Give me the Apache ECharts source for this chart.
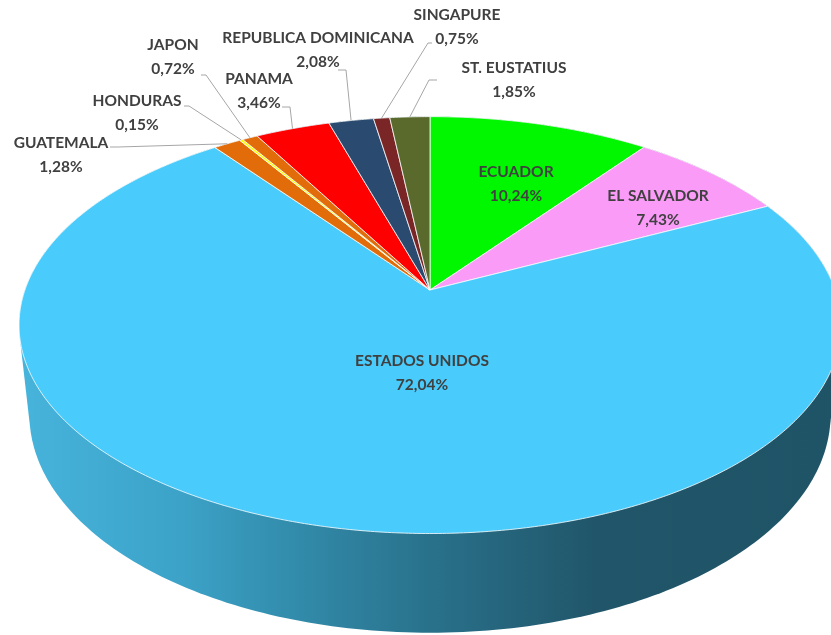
<!DOCTYPE html>
<html>
<head>
<meta charset="utf-8">
<script src="https://cdn.jsdelivr.net/npm/echarts@6/dist/echarts.min.js"></script>
<style>
  html, body { margin: 0; padding: 0; background: #fff; }
  #chart { width: 831px; height: 635px; }
</style>
</head>
<body>
<div id="chart"></div>
<script>
// data
const countries = ['ECUADOR', 'EL SALVADOR', 'ESTADOS UNIDOS', 'GUATEMALA', 'HONDURAS',
                   'JAPON', 'PANAMA', 'REPUBLICA DOMINICANA', 'SINGAPURE', 'ST. EUSTATIUS'];
const shares = [10.24, 7.43, 72.04, 1.28, 0.15, 0.72, 3.46, 2.08, 0.75, 1.85];

// styles / layout
const sliceColors = ['#00f700', '#f99bf7', '#49cbfb', '#e36c0a', '#ffff00',
                     '#e36c0a', '#ff0000', '#2b4a6f', '#7a2526', '#5a6a2c'];
// label block centre, and leader start + elbow (null = label drawn inside the slice)
const labelPos = [[516, 184], [658, 208], [422, 373], [61, 155], [137, 113],
                  [173, 57], [259, 91], [318, 50], [457, 27], [514, 80]];
const leaderPts = [null, null, null,
                   [[110, 147], [118, 147]],
                   [[184, 106], [189, 106]],
                   [[201, 75], [206, 75]],
                   [[282, 107], [290, 107]],
                   [[338, 70], [346, 70]],
                   [[432, 43], [428, 43]],
                   [[437, 80], [429, 80]]];

// simple perspective camera for the tilted disk
const cam = { cx: 430, cy: 290, D: 5.147, F: 2085, tilt: Math.PI / 6, H: 0.26 };

function proj(theta, r, y) {
  const X = r * Math.sin(theta), Z = -r * Math.cos(theta);
  const s = Math.sin(cam.tilt), c = Math.cos(cam.tilt);
  const d = cam.D - y * s - Z * c;
  return [cam.cx + cam.F * X / d, cam.cy - cam.F * (y * c - Z * s) / d];
}

const total = shares.reduce((a, b) => a + b, 0);
const starts = [];
let acc = 0;
for (const v of shares) { starts.push(acc); acc += v; }
const ang = p => p / total * Math.PI * 2;

function hull(pts) {
  pts = pts.slice().sort((a, b) => a[0] - b[0] || a[1] - b[1]);
  const cross = (o, a, b) => (a[0] - o[0]) * (b[1] - o[1]) - (a[1] - o[1]) * (b[0] - o[0]);
  const lo = [], up = [];
  for (const p of pts) {
    while (lo.length >= 2 && cross(lo[lo.length - 2], lo[lo.length - 1], p) <= 0) lo.pop();
    lo.push(p);
  }
  for (let i = pts.length - 1; i >= 0; i--) {
    const p = pts[i];
    while (up.length >= 2 && cross(up[up.length - 2], up[up.length - 1], p) <= 0) up.pop();
    up.push(p);
  }
  up.pop(); lo.pop();
  return lo.concat(up);
}

const chart = echarts.init(document.getElementById('chart'));

const option = {
  animation: false,
  series: [
    {
      // side wall of the pie
      type: 'custom',
      coordinateSystem: 'none',
      z: 1,
      data: [0],
      renderItem: function () {
        const pts = [];
        for (let a = 0; a < 360; a += 1) {
          const t = a * Math.PI / 180;
          pts.push(proj(t, 1, 0));
          pts.push(proj(t, 1, -cam.H));
        }
        return {
          type: 'polygon',
          shape: { points: hull(pts) },
          style: {
            fill: new echarts.graphic.LinearGradient(0, 0, 1, 0, [
              { offset: 0, color: '#47b4dc' },
              { offset: 0.2, color: '#3ca2c7' },
              { offset: 0.35, color: '#3189a8' },
              { offset: 0.5, color: '#29718b' },
              { offset: 0.7, color: '#21566a' },
              { offset: 1, color: '#1f5366' }
            ])
          }
        };
      }
    },
    {
      // top face slices
      type: 'custom',
      coordinateSystem: 'none',
      z: 2,
      data: shares.map((v, i) => [i, v]),
      renderItem: function (params, api) {
        const i = params.dataIndex;
        const t0 = ang(starts[i]), t1 = ang(starts[i] + shares[i]);
        const n = Math.max(2, Math.ceil((t1 - t0) / (Math.PI / 360)));
        const pts = [proj(0, 0, 0)];
        for (let k = 0; k <= n; k++) pts.push(proj(t0 + (t1 - t0) * k / n, 1, 0));
        return {
          type: 'polygon',
          shape: { points: pts },
          style: { fill: sliceColors[i], stroke: '#ffffff', lineWidth: 0.8 }
        };
      }
    },
    {
      // labels and leader lines
      type: 'custom',
      coordinateSystem: 'none',
      z: 3,
      data: shares.map((v, i) => [i, v]),
      renderItem: function (params, api) {
        const i = params.dataIndex;
        const children = [];
        const lp = leaderPts[i];
        if (lp) {
          const tm = ang(starts[i] + shares[i] / 2);
          const end = proj(tm, 1, 0);
          children.push({
            type: 'polyline',
            shape: { points: [lp[0], lp[1], end] },
            style: { stroke: '#a6a6a6', lineWidth: 1, fill: null }
          });
        }
        const pct = shares[i].toFixed(2).replace('.', ',') + '%';
        children.push({
          type: 'text',
          style: {
            text: countries[i] + '\n' + pct,
            x: labelPos[i][0],
            y: labelPos[i][1],
            align: 'center',
            verticalAlign: 'middle',
            lineHeight: 24,
            fill: '#404040',
            fontFamily: 'Lato',
            fontWeight: 'bold',
            fontSize: 15.5
          }
        });
        return { type: 'group', children: children };
      }
    }
  ]
};

chart.setOption(option);
</script>
</body>
</html>
